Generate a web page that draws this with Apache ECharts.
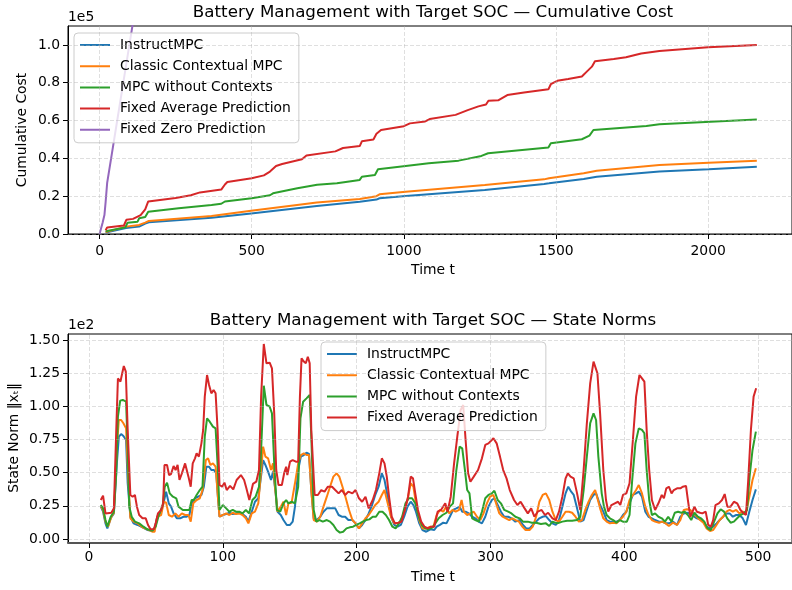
<!DOCTYPE html>
<html><head><meta charset="utf-8">
<script src="https://cdn.jsdelivr.net/npm/echarts@6/dist/echarts.min.js"></script>
<style>html,body{margin:0;padding:0;background:#fff}#c{width:792px;height:590px}</style>
</head><body><div id="c"></div>
<script>
const seriesNames = ['InstructMPC','Classic Contextual MPC','MPC without Contexts','Fixed Average Prediction','Fixed Zero Prediction'];
const colors = ['#1f77b4','#ff7f0e','#2ca02c','#d62728','#9467bd'];
const costXTicks = [0,500,1000,1500,2000];
const costYTicks = [0,0.2,0.4,0.6,0.8,1.0];
const normXTicks = [0,100,200,300,400,500];
const normYTicks = [0,0.25,0.5,0.75,1.0,1.25,1.5];

// Cumulative cost (units of 1e5): [t, value]
const costInstruct = [[20,0.008],[25,0.014],[87,0.032],[130,0.039],[150,0.055],[162,0.062],[368,0.086],[498,0.109],[649,0.136],[714,0.148],[855,0.171],[910,0.182],[920,0.189],[1006,0.201],[1266,0.233],[1461,0.265],[1477,0.268],[1591,0.291],[1634,0.303],[1840,0.33],[2002,0.342],[2160,0.355]];
const costClassic = [[20,0.01],[25,0.018],[87,0.039],[130,0.048],[150,0.06],[162,0.069],[368,0.095],[498,0.123],[649,0.153],[714,0.166],[855,0.185],[910,0.2],[920,0.21],[1006,0.224],[1266,0.259],[1461,0.289],[1477,0.295],[1591,0.321],[1634,0.335],[1840,0.365],[2002,0.377],[2160,0.388]];
const costNoCtx = [[20,0.015],[25,0.025],[85,0.035],[92,0.06],[125,0.065],[130,0.083],[150,0.09],[160,0.118],[260,0.136],[368,0.153],[400,0.16],[412,0.172],[500,0.189],[560,0.205],[570,0.215],[650,0.242],[715,0.26],[780,0.268],[855,0.286],[862,0.303],[905,0.312],[915,0.342],[1006,0.36],[1082,0.374],[1180,0.388],[1255,0.413],[1277,0.427],[1475,0.458],[1483,0.48],[1585,0.501],[1610,0.52],[1623,0.55],[1797,0.571],[1840,0.58],[2160,0.605]];
const costFixedAvg = [[20,0.02],[25,0.035],[80,0.045],[88,0.075],[110,0.08],[115,0.09],[135,0.1],[150,0.13],[160,0.172],[250,0.19],[300,0.205],[330,0.22],[400,0.235],[412,0.262],[420,0.275],[500,0.295],[540,0.31],[560,0.33],[580,0.36],[600,0.37],[665,0.395],[680,0.415],[775,0.437],[800,0.455],[855,0.465],[862,0.49],[900,0.5],[910,0.53],[925,0.55],[1000,0.57],[1020,0.585],[1070,0.595],[1085,0.608],[1170,0.63],[1210,0.655],[1245,0.675],[1270,0.685],[1278,0.705],[1310,0.707],[1340,0.735],[1395,0.748],[1475,0.765],[1483,0.792],[1504,0.81],[1540,0.82],[1585,0.833],[1602,0.86],[1618,0.885],[1628,0.914],[1690,0.925],[1730,0.935],[1780,0.955],[1840,0.968],[2000,0.988],[2160,1.0]];
const costFixedZero = [[0,0],[10,0.06],[16,0.1],[20,0.17],[25,0.27],[40,0.42],[60,0.62],[80,0.82],[100,1.02],[112,1.14]];

// State norms (units of 1e2): [t, value]
const normInstruct = [[8.8,.244],[10.5,.206],[12.3,.118],[13.7,.08],[16.2,.156],[18.6,.193],[20.8,.57],[22.3,.771],[24,.791],[25.7,.776],[27.7,.746],[28.9,.42],[30.9,.168],[33.3,.118],[36.3,.106],[40,.088],[43.6,.068],[47.3,.063],[49,.073],[51,.168],[53.9,.206],[55.9,.281],[57.6,.357],[59.6,.269],[61.3,.244],[63.2,.193],[65.7,.156],[68.1,.156],[70.6,.168],[73,.168],[75,.181],[76.7,.269],[79.2,.307],[81.6,.319],[84,.332],[85.8,.394],[87.7,.545],[89.7,.545],[91.4,.52],[93.4,.52],[95.1,.495],[96.3,.319],[97.5,.168],[100,.181],[102.5,.188],[104.9,.198],[107.4,.188],[109.8,.193],[112.3,.198],[114.7,.188],[117.2,.168],[119.1,.131],[121.6,.206],[124,.281],[126.5,.307],[128.2,.445],[130.1,.595],[131.8,.558],[133.8,.508],[136,.445],[137.5,.508],[139.2,.369],[140.9,.206],[143.3,.181],[145.3,.143],[147.8,.106],[150.2,.106],[152.2,.131],[153.9,.244],[156.3,.52],[158.3,.621],[160.5,.633],[162.5,.651],[164.4,.641],[166.1,.369],[167.9,.156],[170.3,.143],[172.8,.168],[175.2,.206],[177.7,.231],[180.8,.231],[184,.231],[186.5,.181],[188.9,.168],[191.4,.168],[193.8,.143],[196.8,.143],[199.2,.118],[201.7,.08],[204.1,.106],[206.6,.143],[209,.193],[211.5,.256],[213.9,.332],[216.4,.394],[218.8,.495],[220.8,.445],[223.2,.319],[225.7,.168],[228.1,.106],[230.6,.093],[233,.106],[235.5,.168],[238,.244],[240.4,.281],[242.4,.256],[244.3,.206],[246.8,.118],[249.2,.068],[252,.055],[255.1,.073],[258,.068],[259.8,.093],[262.2,.106],[264.7,.123],[267.1,.118],[269.6,.168],[272,.219],[274.5,.231],[276.9,.244],[278.9,.206],[281.4,.206],[283.8,.193],[286.3,.168],[288.7,.156],[291.2,.131],[293.6,.118],[296.1,.168],[298.5,.244],[301,.294],[302.9,.307],[305.4,.256],[307.8,.206],[310.3,.168],[313.2,.168],[315.7,.156],[318.6,.131],[321.8,.143],[324.3,.106],[326.7,.08],[329.2,.08],[331.6,.106],[334.1,.131],[336.5,.156],[339,.168],[341.4,.173],[343.9,.143],[346.3,.118],[348.8,.106],[351.2,.143],[353.7,.244],[356.1,.344],[358.1,.394],[360.3,.357],[362.2,.332],[364.7,.231],[367.1,.131],[369.6,.143],[372,.219],[374.5,.294],[377,.332],[378.9,.344],[381.4,.269],[384.3,.206],[386.8,.143],[389.2,.131],[391.7,.131],[394.1,.131],[396.6,.143],[399,.181],[401.5,.206],[403.9,.269],[406.4,.332],[408.8,.344],[410.8,.357],[413.2,.319],[415.7,.206],[418.1,.168],[420.6,.156],[423,.143],[426,.131],[428.4,.131],[430.9,.118],[433.3,.118],[436.3,.131],[439.4,.106],[441.9,.168],[444.4,.193],[446.8,.198],[449.3,.193],[451.7,.173],[454.2,.156],[456.6,.148],[459.1,.131],[461.5,.093],[464,.08],[466.4,.093],[468.9,.118],[471.3,.143],[473.8,.168],[476.2,.193],[478.7,.193],[481.1,.168],[483.6,.181],[486,.181],[488.5,.156],[490.9,.106],[493.4,.206],[495.8,.294],[498.3,.374]];
const normClassic = [[8.8,.249],[10.5,.219],[12.3,.131],[14.2,.093],[16.7,.168],[18.6,.198],[20.8,.696],[22.3,.897],[24,.897],[25.7,.872],[27.7,.834],[29.4,.445],[30.9,.156],[33.3,.131],[36.3,.118],[40,.088],[43.6,.073],[47.3,.055],[49,.055],[51,.168],[53.9,.181],[55.9,.281],[57.6,.274],[59.6,.181],[62,.168],[64.5,.193],[66.9,.168],[69.4,.193],[71.8,.181],[74.3,.181],[76,.131],[77.9,.269],[80.4,.294],[82.8,.307],[84.8,.369],[87.3,.595],[89,.608],[90.7,.558],[92.6,.57],[94.6,.545],[96.3,.319],[97.5,.168],[100,.181],[102.5,.193],[104.9,.181],[107.4,.198],[109.8,.188],[112.3,.193],[114.7,.181],[117.2,.156],[119.1,.118],[121.6,.193],[124,.206],[126.5,.269],[128.2,.47],[130.1,.696],[131.8,.621],[133.8,.608],[136,.52],[137.5,.57],[139.2,.369],[140.9,.206],[143.3,.244],[145.3,.281],[147.3,.181],[149,.269],[151.4,.274],[153.9,.42],[156.3,.57],[158.3,.633],[160.5,.646],[162.5,.633],[164.4,.633],[166.1,.369],[167.9,.143],[170.3,.131],[172.8,.168],[175.2,.244],[177.7,.319],[180.1,.394],[182.6,.47],[185,.495],[187,.47],[189.4,.394],[191.9,.307],[194.3,.219],[196.8,.143],[199.2,.118],[201.7,.08],[204.1,.118],[206.6,.156],[209,.181],[211.5,.219],[213.9,.256],[216.4,.281],[218.8,.332],[220.8,.369],[223.2,.269],[225.7,.168],[228.1,.118],[230.6,.118],[233,.131],[235.5,.206],[238,.294],[240.4,.42],[242.4,.394],[244.3,.269],[246.8,.143],[249.2,.08],[252,.08],[255.1,.093],[257.3,.093],[259.8,.181],[262.2,.219],[264.7,.206],[267.1,.249],[269.1,.193],[271.6,.219],[274,.206],[276.5,.219],[278.4,.294],[280.1,.206],[282.6,.181],[285,.193],[287.5,.206],[289.9,.168],[292.4,.143],[294.8,.193],[297.3,.269],[299.7,.319],[302.2,.332],[304.2,.269],[306.6,.193],[309.1,.168],[311.5,.156],[314,.143],[316.4,.156],[318.9,.143],[321.3,.131],[323.8,.093],[326.2,.068],[329.2,.068],[331.6,.093],[334.1,.168],[336.5,.281],[339,.332],[341.4,.344],[343.9,.294],[346.3,.206],[348.8,.143],[351.2,.131],[353.7,.168],[356.1,.206],[358.6,.206],[361,.198],[363.5,.168],[366,.131],[368.4,.143],[370.8,.219],[373.3,.281],[375.7,.332],[378.2,.369],[379.9,.307],[381.9,.231],[384.3,.156],[386.8,.131],[389.2,.118],[391.7,.123],[394.1,.118],[396.6,.143],[399,.168],[401.5,.206],[403.9,.294],[406.4,.332],[408.8,.369],[410.8,.407],[413.2,.344],[415.7,.244],[418.1,.181],[420.6,.143],[423,.131],[426,.123],[428.4,.131],[430.9,.118],[433.3,.098],[436.3,.123],[439.4,.106],[441.9,.143],[444.4,.219],[446.8,.224],[449.3,.219],[451.7,.193],[454.2,.168],[456.6,.143],[459.1,.123],[461.5,.08],[464,.06],[466.4,.068],[468.9,.106],[471.3,.143],[473.8,.168],[476.2,.206],[478.7,.219],[481.1,.206],[483.6,.219],[486,.193],[488.5,.206],[490.9,.193],[493.4,.319],[495.8,.445],[498.3,.533]];
const normNoCtx = [[8.8,.256],[10.5,.231],[12.3,.143],[13.7,.093],[16.2,.168],[18.6,.206],[20.3,.495],[21.6,.922],[23.3,1.043],[25.2,1.048],[27.7,1.035],[28.9,.696],[30.1,.244],[31.9,.168],[34.3,.131],[37.5,.118],[40.7,.093],[43.6,.073],[47.3,.063],[49.8,.093],[52.2,.181],[55.1,.256],[56.6,.394],[58.3,.425],[60.3,.344],[62.7,.319],[65.2,.307],[66.9,.244],[70.1,.219],[73,.219],[75,.219],[76.7,.294],[78.4,.294],[80.4,.332],[82.8,.369],[84.8,.394],[86.5,.771],[88.2,.91],[90.2,.884],[92.6,.847],[94.6,.834],[96.3,.52],[97.5,.219],[100,.256],[102.5,.231],[104.9,.206],[107.4,.219],[109.8,.206],[112.3,.206],[114.7,.193],[117.2,.219],[119.6,.193],[122.1,.294],[124.5,.319],[127,.394],[128.2,.57],[130.6,1.155],[132.6,1.01],[135,.997],[136.7,.947],[138.4,.57],[140.4,.219],[142.9,.206],[145.3,.269],[147.3,.294],[149,.269],[151.4,.281],[153.9,.269],[156.3,.394],[158,.91],[160,1.035],[162.5,1.06],[164.9,1.085],[166.1,.771],[167.9,.219],[169.8,.131],[172.3,.143],[174.7,.131],[177.7,.143],[180.1,.131],[182.6,.106],[185,.068],[187.5,.048],[189.9,.055],[192.4,.08],[194.8,.088],[197.3,.093],[199.7,.106],[202.2,.118],[204.6,.131],[207.1,.143],[209.5,.148],[212,.168],[214.4,.168],[216.9,.206],[219.3,.206],[221.8,.181],[224.2,.143],[226.7,.093],[229.1,.08],[231.6,.118],[234,.168],[236.5,.269],[238.9,.307],[241.4,.307],[243.8,.269],[246.3,.168],[248.7,.106],[251.2,.08],[253.6,.073],[256.8,.088],[258,.093],[261.3,.156],[264.2,.181],[267.1,.198],[269.6,.244],[272,.269],[274.5,.52],[276.9,.696],[278.9,.683],[280.9,.52],[282.6,.369],[284.3,.344],[286.3,.156],[288.7,.143],[291.2,.131],[293.6,.206],[296.1,.307],[298.5,.332],[301,.344],[302.9,.364],[305.4,.294],[307.8,.269],[310.3,.219],[313.2,.206],[315.7,.193],[318.6,.168],[321.8,.156],[324.3,.131],[327.9,.131],[330.9,.123],[334.1,.123],[337.7,.113],[341.4,.118],[343.9,.098],[346.3,.131],[350,.118],[353.7,.131],[357.3,.138],[361,.138],[364.7,.143],[367.1,.168],[369.6,.369],[372,.621],[374.5,.872],[377,.947],[378.9,.897],[380.6,.621],[383.1,.344],[384.8,.244],[386.8,.181],[389.2,.156],[391.7,.143],[394.1,.123],[396.6,.143],[399,.131],[401.9,.131],[403.9,.181],[405.9,.445],[408.3,.721],[410.8,.834],[413.2,.822],[415,.797],[416.7,.52],[418.6,.294],[420.6,.181],[423,.193],[425.5,.168],[428,.156],[430.4,.131],[432.8,.168],[435.3,.131],[437.7,.198],[440.2,.206],[442.6,.198],[445.1,.206],[447.5,.181],[450,.143],[452.4,.198],[454.9,.168],[457.3,.156],[459.8,.131],[462.2,.08],[464.7,.068],[467.1,.131],[469.6,.193],[472,.224],[474.5,.206],[476.9,.156],[479.4,.123],[481.9,.131],[484.3,.156],[486.8,.181],[489.2,.193],[491.7,.219],[493.6,.47],[495.8,.671],[498.3,.809]];
const normFixedAvg = [[8.8,.294],[10.5,.327],[12.3,.193],[13.7,.181],[16.7,.198],[18.6,.231],[20.3,.8],[21.6,1.21],[22.3,1.224],[23.5,1.186],[24.8,1.249],[26,1.304],[27.5,1.261],[28.9,.82],[30.9,.332],[32.6,.319],[34.3,.332],[35.8,.244],[37.5,.181],[40,.156],[42.4,.156],[44.1,.106],[46,.073],[48.5,.075],[49.8,.118],[51.5,.193],[53.9,.219],[55.4,.269],[56.4,.558],[58.3,.558],[59.8,.482],[61.3,.49],[63.2,.55],[64.7,.52],[66.2,.558],[67.6,.445],[69.4,.495],[71.8,.57],[74.3,.47],[76,.394],[77.5,.57],[79.2,.608],[80.4,.646],[82.1,.621],[84,.721],[85.3,.822],[86.5,1.073],[88.2,1.236],[89.7,1.161],[91.4,1.098],[93.1,1.123],[94.6,1.098],[96.1,.822],[97.5,.407],[99.5,.394],[101.2,.425],[102.9,.369],[105.4,.40],[107.8,.374],[110.3,.445],[113.5,.482],[115.9,.445],[117.6,.382],[119.8,.294],[122.5,.415],[125,.432],[127,.52],[128.6,1.073],[130.6,1.47],[132.6,1.324],[135,1.329],[136.7,1.286],[138.4,.947],[139.9,.52],[141.6,.407],[144.1,.407],[145.8,.495],[147.3,.545],[148.2,.482],[150.2,.583],[152.2,.595],[154.6,.583],[156.3,.583],[157.6,1.073],[158.8,1.362],[160.5,1.337],[162,1.324],[163.5,1.374],[164.9,1.324],[166.1,.822],[168.6,.332],[171,.332],[173.5,.369],[176,.357],[178.4,.394],[181.6,.394],[184,.369],[186.5,.344],[188.9,.369],[191.4,.332],[193.8,.357],[196.8,.344],[199.2,.369],[201.7,.307],[204.1,.281],[206.6,.319],[209,.231],[212,.294],[214.4,.369],[216.9,.495],[218.8,.608],[220.8,.57],[222.5,.47],[224.2,.319],[226.2,.168],[228.6,.118],[231.1,.123],[233.5,.131],[236,.219],[238.4,.319],[240.4,.47],[242.1,.457],[243.8,.344],[245.8,.219],[248.2,.131],[250.7,.093],[253.2,.08],[255.6,.093],[258,.093],[260.5,.206],[263,.219],[266.2,.269],[267.9,.206],[270.3,.319],[272.8,.57],[275.2,.771],[277.7,.972],[279.6,1.01],[281.4,.746],[283.3,.495],[285,.432],[287.5,.47],[290.7,.52],[293.6,.608],[296.1,.709],[298.5,.721],[302.2,.759],[304.6,.721],[307.1,.621],[309.5,.52],[312,.457],[314.4,.369],[317.6,.294],[320.1,.256],[322.5,.281],[325.5,.231],[327.9,.193],[330.4,.231],[332.8,.168],[335.3,.206],[338.2,.219],[340.7,.181],[343.1,.198],[346.3,.156],[348.8,.143],[351.2,.206],[353.7,.319],[356.1,.457],[357.8,.495],[359.8,.47],[362.2,.457],[364.7,.344],[367.1,.219],[369.6,.52],[372,.872],[374.5,1.173],[377,1.337],[378.2,1.349],[379.9,1.249],[381.9,.947],[384.3,.52],[386.3,.294],[388,.206],[390.4,.256],[392.9,.269],[395.3,.281],[397,.256],[399,.332],[401.5,.344],[403.9,.42],[406.4,.746],[408.8,1.073],[411.3,1.236],[413.2,1.211],[415,1.186],[416.7,.822],[418.6,.52],[420.6,.294],[423,.219],[425.5,.269],[428,.332],[429.6,.307],[431.4,.382],[433.3,.394],[435.3,.344],[437,.369],[439.4,.382],[441.9,.382],[443.6,.394],[446.1,.40],[447.5,.294],[449.3,.168],[451,.206],[452.4,.244],[454.2,.206],[456.6,.198],[458.3,.193],[460.8,.206],[462.7,.106],[464.7,.093],[466.4,.143],[468.1,.256],[470.6,.269],[473,.294],[475,.339],[477,.244],[479.4,.244],[481.9,.281],[484.3,.269],[486.8,.219],[489.2,.193],[490.9,.181],[492.6,.445],[494.6,.822],[496.6,1.073],[498.5,1.136]];

const FONT = 'DejaVu Sans';
const costData = [costInstruct, costClassic, costNoCtx, costFixedAvg, costFixedZero];
const normData = [normInstruct, normClassic, normNoCtx, normFixedAvg];
const LEGEND_ICON = 'path://M0,0h0.01v14h-0.01z M0,6h30v2h-30z';

function gridLines(xt, yt, gi) {
  return {
    type: 'line', xAxisIndex: gi, yAxisIndex: gi, data: [], z: 1, silent: true,
    markLine: {
      silent: true, symbol: ['none','none'], animation: false, label: {show: false},
      lineStyle: {color: '#b0b0b0', opacity: 0.5, type: [4,2], width: 0.8},
      emphasis: {disabled: true},
      data: xt.map(v => ({xAxis: v})).concat(yt.map(v => ({yAxis: v})))
    }
  };
}
function mkLine(name, data, color, gi) {
  return {type: 'line', name: name, data: data, xAxisIndex: gi, yAxisIndex: gi, symbol: 'none',
    lineStyle: {width: 2, color: color}, itemStyle: {color: color}, z: 3, animation: false, clip: true};
}
function xAx(gi, min, max, ticks, lineColor, lineWidth, margin) {
  return {type: 'value', gridIndex: gi, min: min, max: max,
    axisLine: {show: true, onZero: false, lineStyle: {color: lineColor, width: lineWidth}},
    axisTick: {show: true, length: 5, customValues: ticks, lineStyle: {color: '#000', width: 1}},
    axisLabel: {customValues: ticks, color: '#000', fontSize: 13.9, fontFamily: FONT, margin: margin,
      formatter: v => String(v)},
    splitLine: {show: false}};
}
function yAx(gi, min, max, ticks, dec) {
  return {type: 'value', gridIndex: gi, min: min, max: max,
    axisLine: {show: true, onZero: false, lineStyle: {color: '#000', width: 1}},
    axisTick: {show: true, length: 5, customValues: ticks, lineStyle: {color: '#000', width: 1}},
    axisLabel: {customValues: ticks, color: '#000', fontSize: 13.9, fontFamily: FONT, margin: 8,
      formatter: v => v.toFixed(dec)},
    splitLine: {show: false}};
}
function legendBox(names, left, top) {
  return {data: names.map(n => ({name: n, icon: LEGEND_ICON})), orient: 'vertical', left: left, top: top,
    itemWidth: 30, itemHeight: 14, itemGap: 7.2,
    padding: [5, 8, 6, 6], backgroundColor: 'rgba(255,255,255,0.8)', borderColor: '#cccccc', borderWidth: 1,
    borderRadius: 4, selectedMode: false,
    textStyle: {fontSize: 13.9, fontFamily: FONT, color: '#000', padding: [0,0,0,5]}};
}
function txt(s, x, y, size, align, rot) {
  return {type: 'text', x: x, y: y, rotation: rot || 0, silent: true,
    style: {text: s, fontSize: size, fontFamily: FONT, fill: '#000', textAlign: align || 'center', textVerticalAlign: 'middle'}};
}

const series = [gridLines(costXTicks, costYTicks, 0), gridLines(normXTicks, normYTicks, 1)];
costData.forEach((d, i) => series.push(mkLine(seriesNames[i], d, colors[i], 0)));
normData.forEach((d, i) => series.push(mkLine(seriesNames[i], d, colors[i], 1)));

const chart = echarts.init(document.getElementById('c'), null, {renderer: 'canvas'});
chart.setOption({
  animation: false,
  backgroundColor: '#fff',
  textStyle: {fontFamily: FONT},
  grid: [
    {left: 68, top: 26, height: 208, right: -10, show: true, borderColor: '#000', borderWidth: 1, backgroundColor: 'transparent'},
    {left: 68, top: 334, height: 209, right: -10, show: true, borderColor: '#000', borderWidth: 1, backgroundColor: 'transparent'}
  ],
  xAxis: [xAx(0, -103.7, 2275.6, costXTicks, '#000', 1, 10), xAx(1, -15.7, 525.3, normXTicks, '#555', 2, 7)],
  yAxis: [yAx(0, 0, 1.1, costYTicks, 1), yAx(1, -0.03, 1.545, normYTicks, 2)],
  legend: [legendBox(seriesNames, 74, 33), legendBox(seriesNames.slice(0,4), 321, 342)],
  series: series,
  graphic: [
    txt('Battery Management with Target SOC \u2014 Cumulative Cost', 433, 12.5, 16.7),
    txt('Battery Management with Target SOC \u2014 State Norms', 433, 321, 16.7),
    txt('1e5', 68, 17, 13.9, 'left'),
    txt('1e2', 68, 325, 13.9, 'left'),
    txt('Time t', 433, 270, 13.9),
    txt('Time t', 433, 577.5, 13.9),
    txt('Cumulative Cost', 22.5, 130, 13.9, 'center', Math.PI/2),
    txt('State Norm \u2016x\u209c\u2016', 14, 438, 13.9, 'center', Math.PI/2)
  ]
});
</script></body></html>
